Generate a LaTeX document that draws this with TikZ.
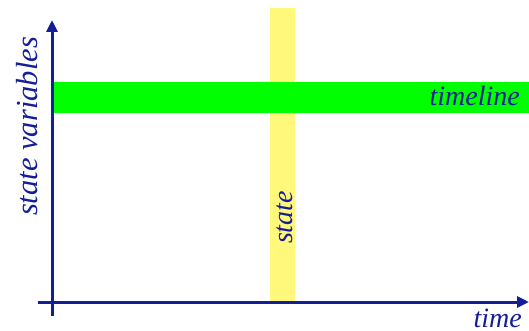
\documentclass[tikz,border=0pt]{standalone}
\usepackage{fontspec}
\setmainfont{Liberation Serif}
\usepackage{tikz}
\usetikzlibrary{arrows.meta}
\definecolor{axisblue}{RGB}{20,30,150}
\definecolor{bandgreen}{RGB}{0,255,0}
\definecolor{bandyellow}{RGB}{255,248,122}
\tikzset{
  axis/.style={axisblue,line width=3pt,-{Triangle[length=12pt,width=11pt]}},
  lab/.style={axisblue,font=\fontsize{28}{28}\selectfont\itshape,inner sep=0pt}
}

\begin{document}
\begin{tikzpicture}[x=1pt,y=1pt]
  \useasboundingbox (0,0) rectangle (529,330);
  % bands
  \fill[bandyellow] (270,28) rectangle (295,322);
  \fill[bandgreen] (52,217) rectangle (529,248);
  % axes
  \coordinate (ybot) at (52,14);
  \coordinate (ytop) at (52,310);
  \coordinate (xleft) at (38,28);
  \coordinate (xright) at (529,28);
  \draw[axis] (ybot) -- (ytop);
  \draw[axis] (xleft) -- (xright);
  % labels
  \node[lab,anchor=base east] (timeline) at (520,225) {timeline};
  \node[lab,anchor=base east] (time) at (522,3) {time};
  \node[lab,rotate=90,anchor=base] (state) at (292,112.5) {state};
  \node[lab,font=\fontsize{30.5}{30}\selectfont\itshape,rotate=90,anchor=base] (statevars) at (37,203.5) {state variables};
\end{tikzpicture}
\end{document}
